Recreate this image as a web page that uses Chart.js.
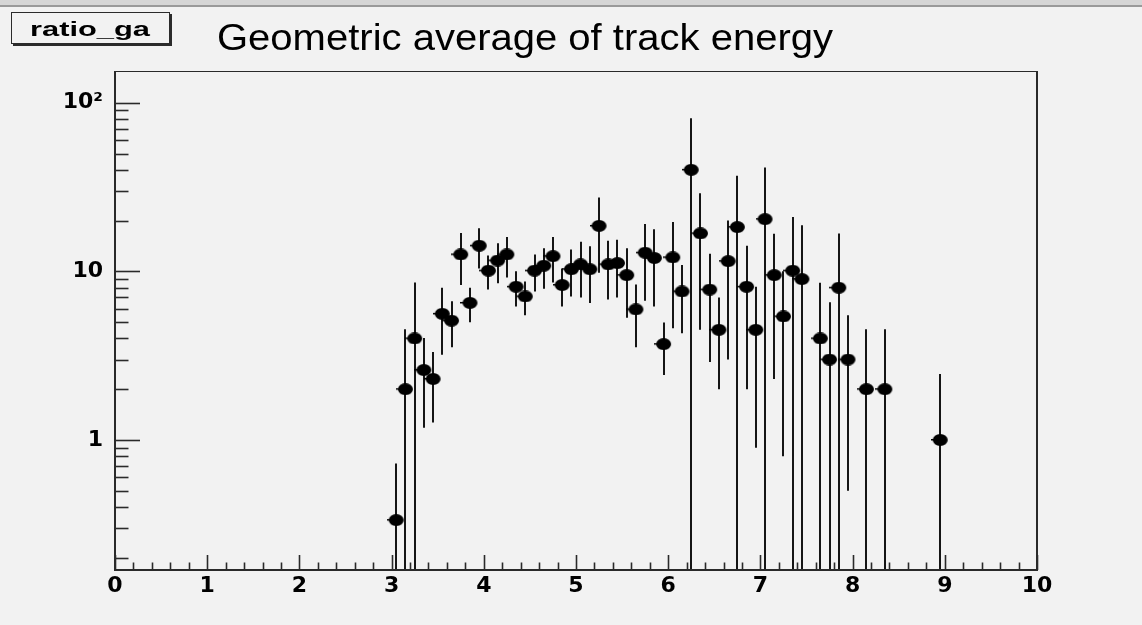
<!DOCTYPE html>
<html>
<head>
<meta charset="utf-8">
<script src="https://cdn.jsdelivr.net/npm/chart.js@4/dist/chart.umd.min.js"></script>
<style>
html, body { margin:0; padding:0; background:#f2f2f2; width:1142px; height:625px; overflow:hidden; }
#wrap { position:relative; width:1142px; height:625px; }
#c { position:absolute; left:0; top:0; }
.topband { position:absolute; left:0; top:0; width:1142px; height:5px; background:#d6d6d6; }
.topline { position:absolute; left:0; top:5px; width:1142px; height:2px; background:#9a9a9a; }
#statbox { position:absolute; left:11px; top:12px; width:157px; height:30px; border:1px solid #2b2b2b; box-shadow:2px 2px 0 #2b2b2b; background:#f2f2f2; }
#statlabel { position:absolute; left:30px; top:19px; font:bold 20px "Liberation Sans", Arial, sans-serif; line-height:20px; white-space:nowrap; transform-origin:0 0; color:#000; }
#title { position:absolute; left:217px; top:19.5px; font:36px "Liberation Sans", Arial, sans-serif; line-height:36px; white-space:nowrap; transform-origin:0 0; color:#000; }
</style>
</head>
<body>
<div id="wrap">
  <canvas id="c" width="1142" height="625" style="width:1142px;height:625px;"></canvas>
  <div class="topband"></div>
  <div class="topline"></div>
  <div id="statbox"></div>
  <div id="statlabel">ratio_ga</div>
  <div id="title">Geometric average of track energy</div>
</div>
<script>
// ---- data ----
const binCenters = [3.05, 3.15, 3.25, 3.35, 3.45, 3.55, 3.65, 3.75, 3.85, 3.95,
                    4.05, 4.15, 4.25, 4.35, 4.45, 4.55, 4.65, 4.75, 4.85, 4.95,
                    5.05, 5.15, 5.25, 5.35, 5.45, 5.55, 5.65, 5.75, 5.85, 5.95,
                    6.05, 6.15, 6.25, 6.35, 6.45, 6.55, 6.65, 6.75, 6.85, 6.95,
                    7.05, 7.15, 7.25, 7.35, 7.45, 7.65, 7.75, 7.85, 7.95,
                    8.15, 8.35, 8.95];
const values = [0.335, 2.0, 4.0, 2.6, 2.3, 5.6, 5.1, 12.6, 6.5, 14.2,
                10.1, 11.6, 12.6, 8.1, 7.1, 10.1, 10.8, 12.3, 8.3, 10.3,
                11.0, 10.3, 18.6, 11.0, 11.2, 9.5, 5.95, 12.9, 12.0, 3.7,
                12.1, 7.6, 40.0, 16.8, 7.8, 4.5, 11.5, 18.3, 8.1, 4.5,
                20.4, 9.5, 5.4, 10.1, 9.0, 4.0, 3.0, 8.0, 3.0,
                2.0, 2.0, 1.0];
const errors = [0.39, 2.54, 4.58, 1.42, 1.03, 2.4, 1.55, 4.3, 1.5, 3.8,
                2.3, 3.1, 3.4, 1.9, 1.6, 2.5, 2.9, 3.7, 2.1, 3.2,
                4.0, 3.8, 8.8, 4.2, 4.2, 4.2, 2.4, 6.2, 5.8, 1.27,
                7.5, 3.3, 41.0, 12.3, 4.9, 2.5, 8.5, 18.6, 6.1, 3.6,
                20.9, 7.2, 4.6, 10.9, 9.8, 4.55, 3.55, 8.8, 2.5,
                2.54, 2.54, 1.46];
const xTickValues = [0, 1, 2, 3, 4, 5, 6, 7, 8, 9, 10];
const xTickLabels = ['0', '1', '2', '3', '4', '5', '6', '7', '8', '9', '10'];
const yTickValues = [1, 10, 100];
const yTickLabels = ['1', '10', '10²'];
const yMinorValues = [0.2, 0.3, 0.4, 0.5, 0.6, 0.7, 0.8, 0.9,
                      2, 3, 4, 5, 6, 7, 8, 9,
                      20, 30, 40, 50, 60, 70, 80, 90];

// fit the header texts to their widths in the reference
function fitWidth(id, target) {
  const el = document.getElementById(id);
  const w = el.getBoundingClientRect().width;
  el.style.transform = 'scaleX(' + (target / w) + ')';
}
fitWidth('statlabel', 120);
fitWidth('title', 616);

// marker: black filled ellipse with a small nub on the left (ROOT look)
const dot = document.createElement('canvas');
dot.width = 19; dot.height = 12;
(function () {
  const g = dot.getContext('2d');
  g.fillStyle = '#000';
  g.beginPath();
  g.ellipse(9.5, 6, 7.5, 6, 0, 0, Math.PI * 2);
  g.fill();
  g.fillRect(0, 5, 3, 1.5);
})();

const rootStyle = {
  id: 'rootStyle',
  beforeDatasetsDraw(chart) {
    const { ctx, chartArea: a, scales: { x, y } } = chart;
    ctx.save();
    ctx.strokeStyle = '#151515';
    ctx.lineWidth = 2;
    binCenters.forEach((c, i) => {
      const px = Math.round(x.getPixelForValue(c));
      const hi = values[i] + errors[i];
      const lo = values[i] - errors[i];
      const yTop = Math.max(a.top, y.getPixelForValue(hi));
      const yBot = lo > y.min ? y.getPixelForValue(lo) : a.bottom;
      ctx.beginPath();
      ctx.moveTo(px, yTop);
      ctx.lineTo(px, yBot);
      ctx.stroke();
    });
    ctx.restore();
  },
  afterDatasetsDraw(chart) {
    const { ctx, chartArea: a, scales: { x, y } } = chart;
    ctx.save();
    ctx.strokeStyle = '#2a2a2a';
    // x ticks (inward)
    ctx.lineWidth = 1.6;
    for (let k = 0; k <= 50; k++) {
      const v = k * 0.2;
      const px = Math.round(x.getPixelForValue(v)) + 0.5;
      const len = (k % 5 === 0) ? 15 : 7.5;
      ctx.beginPath();
      ctx.moveTo(px, a.bottom);
      ctx.lineTo(px, a.bottom - len);
      ctx.stroke();
    }
    // y ticks (inward)
    const drawY = (v, len) => {
      const py = Math.round(y.getPixelForValue(v)) + 0.5;
      ctx.beginPath();
      ctx.moveTo(a.left, py);
      ctx.lineTo(a.left + len, py);
      ctx.stroke();
    };
    yTickValues.forEach(v => drawY(v, 25));
    yMinorValues.forEach(v => drawY(v, 13.5));
    // frame
    ctx.lineWidth = 1;
    ctx.beginPath();
    ctx.moveTo(a.left, a.top + 0.5);
    ctx.lineTo(a.right, a.top + 0.5);
    ctx.stroke();
    ctx.lineWidth = 2;
    ctx.beginPath();
    ctx.moveTo(a.right, a.top);
    ctx.lineTo(a.right, a.bottom);
    ctx.stroke();
    ctx.beginPath();
    ctx.moveTo(a.left, a.top);
    ctx.lineTo(a.left, a.bottom + 1);
    ctx.stroke();
    ctx.beginPath();
    ctx.moveTo(a.left, a.bottom);
    ctx.lineTo(a.right + 1, a.bottom);
    ctx.stroke();
    ctx.restore();
  }
};

const labelFont = { family: 'DejaVu Sans', weight: 'bold', size: 22 };

new Chart(document.getElementById('c'), {
  type: 'scatter',
  data: {
    datasets: [{
      label: 'ratio_ga',
      data: binCenters.map((c, i) => ({ x: c, y: values[i] })),
      pointStyle: dot,
      pointRadius: 6,
      pointHoverRadius: 6,
      backgroundColor: '#000',
      borderColor: '#000',
      showLine: false
    }]
  },
  options: {
    responsive: false,
    animation: false,
    devicePixelRatio: 1,
    layout: { padding: { left: 0, top: 71, right: 105, bottom: 0 } },
    plugins: {
      legend: { display: false },
      title: { display: false },
      tooltip: { enabled: false }
    },
    scales: {
      x: {
        type: 'linear',
        min: 0, max: 10,
        grid: { display: false, drawTicks: false },
        border: { display: false },
        afterBuildTicks: s => { s.ticks = xTickValues.map(v => ({ value: v })); },
        ticks: {
          autoSkip: false, maxRotation: 0, padding: 3, color: '#000', font: labelFont,
          callback: v => { const i = xTickValues.indexOf(v); return i >= 0 ? xTickLabels[i] : ''; }
        },
        afterFit: s => { s.height = 55; }
      },
      y: {
        type: 'logarithmic',
        min: 0.1694, max: 154.3,
        grid: { display: false, drawTicks: false },
        border: { display: false },
        afterBuildTicks: s => { s.ticks = yTickValues.map(v => ({ value: v })); },
        ticks: {
          autoSkip: false, padding: 12, color: '#000', font: labelFont,
          callback: v => { const i = yTickValues.indexOf(v); return i >= 0 ? yTickLabels[i] : ''; }
        },
        afterFit: s => { s.width = 115; }
      }
    }
  },
  plugins: [rootStyle]
});
</script>
</body>
</html>
